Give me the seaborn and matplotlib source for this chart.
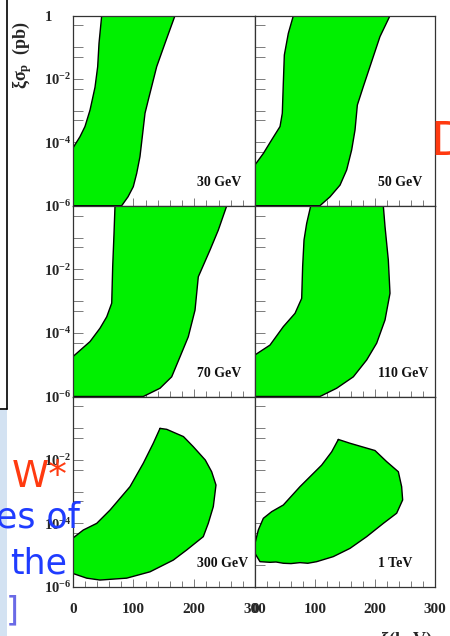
import numpy as np
import matplotlib
matplotlib.use("Agg")
import matplotlib.pyplot as plt
import matplotlib.transforms as mtransforms
import seaborn as sns
from matplotlib.patches import Rectangle
from matplotlib.lines import Line2D
from matplotlib.ticker import FixedLocator

# ---------------- data (x in keV, y as log10 of xi*sigma_p in pb) ----------------
panel_labels = ["30 GeV", "50 GeV", "70 GeV", "110 GeV", "300 GeV", "1 TeV"]

x_30gev = [47.7, 43.3, 41.1, 36.7, 28.5, 20.2, 12.0, 0, 0, 80.6, 91.0, 99.7, 105.3,
           110.7, 115.2, 119.0, 124.4, 138.2, 151.9, 168.3]
ly_30gev = [0, -0.87, -1.61, -2.26, -2.98, -3.50, -3.82, -4.19, -6, -6, -5.72, -5.40,
            -4.98, -4.45, -3.71, -3.08, -2.66, -1.61, -0.87, 0]

x_50gev = [63.9, 55.5, 48.9, 47.2, 45.5, 41.7, 27.8, 13.9, 0, 0, 108.3, 125.0, 141.7,
           152.8, 161.1, 166.7, 170.6, 180.5, 197.2, 208.3, 225.0]
ly_50gev = [0, -0.56, -1.24, -2.13, -3.08, -3.50, -3.92, -4.35, -4.71, -6, -6, -5.72,
            -5.35, -4.87, -4.24, -3.61, -2.82, -2.24, -1.29, -0.66, 0]

x_70gev = [69.6, 68.0, 65.8, 64.2, 56.0, 44.9, 28.5, 0, 0, 116.2, 143.7, 162.9, 176.6,
           190.2, 201.3, 206.7, 225.9, 239.6, 253.4]
ly_70gev = [0, -0.86, -1.91, -3.06, -3.49, -3.85, -4.27, -4.75, -6, -6, -5.74, -5.38,
            -4.75, -4.12, -3.28, -2.23, -1.39, -0.76, 0]

x_110gev = [92.8, 86.1, 81.7, 79.4, 77.8, 66.7, 47.2, 25.0, 0, 0, 108.3, 136.1, 163.9,
            186.1, 202.8, 216.7, 225.0, 222.2, 216.7, 213.9]
ly_110gev = [0, -0.55, -1.07, -1.91, -2.91, -3.38, -3.80, -4.38, -4.69, -6, -6, -5.74,
             -5.38, -4.85, -4.32, -3.59, -2.75, -1.70, -0.65, 0]

x_300gev = [143.7, 154.7, 182.3, 198.5, 218.2, 228.7, 235.8, 231.4, 223.1, 214.9, 187.6,
            165.5, 127.2, 88.9, 44.9, 23.0, 0, 0, 17.4, 39.5, 61.4, 94.3, 116.2, 132.6]
ly_300gev = [-1.0, -1.03, -1.26, -1.58, -2.00, -2.37, -2.79, -3.47, -4.0, -4.42, -4.84,
             -5.16, -5.53, -5.73, -5.79, -5.73, -5.58, -4.47, -4.21, -4.0, -3.58, -2.84,
             -2.10, -1.47]

x_1tev = [138.9, 158.3, 200.0, 219.4, 238.9, 244.4, 246.1, 236.1, 213.9, 186.1, 158.3,
          130.5, 102.8, 88.0, 75.0, 60.0, 47.2, 35.0, 25.0, 8.3, 0, 0, 5.5, 13.9, 27.8,
          47.2, 75.0, 111.1, 127.8]
ly_1tev = [-1.35, -1.47, -1.70, -2.05, -2.37, -2.84, -3.26, -3.68, -4.0, -4.42, -4.79,
           -5.05, -5.21, -5.26, -5.24, -5.27, -5.26, -5.22, -5.23, -5.21, -4.95, -4.63,
           -4.21, -3.84, -3.63, -3.42, -2.84, -2.16, -1.74]

panel_x = [x_30gev, x_50gev, x_70gev, x_110gev, x_300gev, x_1tev]
panel_ly = [ly_30gev, ly_50gev, ly_70gev, ly_110gev, ly_300gev, ly_1tev]

x_ticks = [0, 100, 200, 300]
x_tick_labels = ["0", "100", "200", "300"]
x_minor_ticks = list(range(0, 301, 20))
y_decades = [0, -1, -2, -3, -4, -5, -6]
y_minor_mant = 5
y_labels_top = {0: "1", -2: r"$10^{-2}$", -4: r"$10^{-4}$", -6: r"$10^{-6}$"}
y_labels_other = {-2: r"$10^{-2}$", -4: r"$10^{-4}$", -6: r"$10^{-6}$"}

# ---------------- style ----------------
sns.set_style("ticks")
plt.rcParams["font.family"] = ["Liberation Serif", "DejaVu Serif"]
plt.rcParams["font.weight"] = "bold"
plt.rcParams["mathtext.fontset"] = "custom"
plt.rcParams["mathtext.rm"] = "Liberation Serif:bold"
plt.rcParams["mathtext.it"] = "Liberation Serif:bold"
plt.rcParams["mathtext.bf"] = "Liberation Serif:bold"

GREEN = "#00f000"
W, H = 450.0, 636.0

fig = plt.figure(figsize=(4.5, 6.36), dpi=100)
fig.patch.set_facecolor("white")

# slide remnants behind the chart
fig.add_artist(Rectangle((0, 0), 7 / W, (H - 410) / H, transform=fig.transFigure,
                         facecolor="#d3e2f2", edgecolor="none", zorder=0))
fig.add_artist(Line2D([7 / W, 7 / W], [1, 1 - 409 / H], transform=fig.transFigure,
                      color="black", lw=1.2, zorder=1))
fig.add_artist(Line2D([0, 7 / W], [1 - 409 / H, 1 - 409 / H], transform=fig.transFigure,
                      color="black", lw=1.2, zorder=1))

col_px = [(72.7, 182.3), (255.0, 180.0)]
row_px = [(15.7, 190.0), (206.0, 190.5), (396.7, 190.0)]

for i in range(6):
    r, c = divmod(i, 2)
    left, wpx = col_px[c]
    top, hpx = row_px[r]
    ax = fig.add_axes([left / W, 1 - (top + hpx) / H, wpx / W, hpx / H])
    ax.set_facecolor("white")
    ax.set_yscale("log")
    xs = np.array(panel_x[i], dtype=float)
    ys = 10.0 ** np.array(panel_ly[i], dtype=float)
    ax.fill(xs, ys, color=GREEN, lw=0, zorder=1)
    sns.lineplot(x=np.r_[xs, xs[0]], y=np.r_[ys, ys[0]], sort=False, estimator=None,
                 color="black", lw=1.0, ax=ax, zorder=2)
    ax.set_xlim(0, 300)
    ax.set_ylim(1e-6, 1)
    ax.set_xlabel("")
    ax.set_ylabel("")

    # y ticks
    maj = [10.0 ** k for k in y_decades]
    ax.yaxis.set_major_locator(FixedLocator(maj))
    if c == 0:
        lab = y_labels_top if r == 0 else y_labels_other
        ax.set_yticks(maj, labels=[lab.get(k, "") for k in y_decades])
    else:
        ax.set_yticks(maj, labels=["" for k in y_decades])
    ax.set_yticks([y_minor_mant * 10.0 ** k for k in range(-6, 0)], minor=True)
    ax.tick_params(axis="y", which="both", direction="in", length=7, width=0.6,
                   color="#666666", pad=1, labelsize=10.5)

    # x ticks
    ax.set_xticks(x_minor_ticks, minor=True)
    if r == 2:
        ax.set_xticks(x_ticks, labels=x_tick_labels)
    else:
        ax.set_xticks(x_ticks, labels=["" for _ in x_ticks])
    ax.tick_params(axis="x", which="major", direction="in", length=6, width=0.6,
                   color="#666666", pad=12, labelsize=11)
    ax.tick_params(axis="x", which="minor", direction="in", length=4, width=0.6,
                   color="#666666")
    ax.tick_params(top=False, right=False, which="both")

    # the "1" label sits left, aligned with the "10" of the other labels
    if c == 0 and r == 0:
        tk = ax.yaxis.get_major_ticks()[0]
        off = mtransforms.ScaledTranslation(-14 / 72, 0, fig.dpi_scale_trans)
        tk.label1.set_transform(tk.label1.get_transform() + off)

    for s in ax.spines.values():
        s.set_color("#333333")
        s.set_linewidth(0.9)
        s.set_visible(True)

    ax.text(0.682, 0.12, panel_labels[i], transform=ax.transAxes, ha="left", va="center",
            fontsize=10, fontweight="bold", color="#111111", zorder=5)

# axis titles
fig.text(22 / W, 1 - 55 / H, r"$\xi\sigma_{p}$  (pb)", rotation=90, ha="center",
         va="center", fontsize=13, fontweight="bold")
fig.text(380 / W, 1 - 629 / H, r"$\xi$(keV)", ha="left", va="top", fontsize=13,
         fontweight="bold")

# overlaid slide text fragments
RED = "#ff3a10"
BLUE = "#1f3cff"
fig.text(430 / W, 1 - 155 / H, "D", color=RED, fontsize=34, family="DejaVu Sans",
         fontweight="normal", va="baseline", ha="left")
fig.text(12 / W, 1 - 487 / H, "W*", color=RED, fontsize=27, family="DejaVu Sans",
         fontweight="normal", va="baseline", ha="left")
fig.text(-4 / W, 1 - 527 / H, "es of", color=BLUE, fontsize=25, family="DejaVu Sans",
         fontweight="normal", va="baseline", ha="left")
fig.text(10 / W, 1 - 573 / H, "the", color=BLUE, fontsize=25, family="DejaVu Sans",
         fontweight="normal", va="baseline", ha="left")
fig.text(6 / W, 1 - 620 / H, "]", color="#6a6ae6", fontsize=24, family="DejaVu Sans",
         fontweight="normal", va="baseline", ha="left")

fig.savefig("out.png", dpi=100, facecolor="white")
